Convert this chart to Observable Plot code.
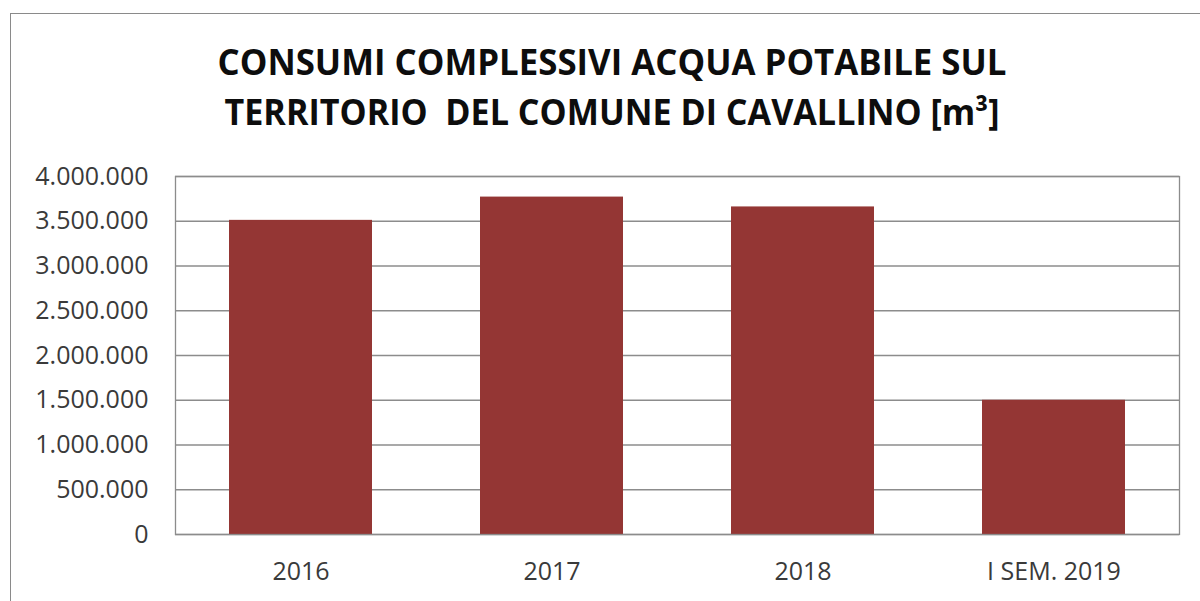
<!DOCTYPE html>
<html><head><meta charset="utf-8">
<script src="https://cdn.jsdelivr.net/npm/d3@7"></script>
<script src="https://cdn.jsdelivr.net/npm/@observablehq/plot@0.6"></script>
<style>
html,body{margin:0;padding:0;background:#fff;overflow:hidden;}
#wrap{position:relative;width:1200px;height:601px;overflow:hidden;}
#border{position:absolute;left:10px;top:13px;width:1300px;height:700px;border:1.5px solid #8a8a8a;box-sizing:border-box;}
.tl{position:absolute;left:612px;white-space:nowrap;font-family:"Open Sans";font-weight:700;font-size:35px;line-height:35px;color:#0d0d0d;transform-origin:0 0;}
#chart{position:absolute;left:0;top:150px;}
</style>
</head><body>
<div id="wrap">
  <div id="border"></div>
  <div class="tl" id="t1" style="top:44px">CONSUMI COMPLESSIVI ACQUA POTABILE SUL</div>
  <div class="tl" id="t2" style="top:94px">TERRITORIO&nbsp; DEL COMUNE DI CAVALLINO [m³]</div>
  <div id="chart"></div>
</div>
<script>
const categories = ["2016", "2017", "2018", "I SEM. 2019"];
const consumi = [3510000, 3770000, 3660000, 1500000];
const yTicks = [0, 500000, 1000000, 1500000, 2000000, 2500000, 3000000, 3500000, 4000000];

const data = categories.map((c, i) => ({anno: c, m3: consumi[i]}));
const fmt = d3.formatLocale({decimal: ",", thousands: ".", grouping: [3], currency: ["", "€"]}).format(",");

const chart = Plot.plot({
  width: 1200, height: 451,
  marginTop: 26, marginBottom: 67, marginLeft: 175, marginRight: 21,
  style: {fontFamily: "Open Sans", fontSize: "25px", color: "#3a3a3a", background: "transparent"},
  x: {domain: categories, paddingInner: 0.43, paddingOuter: 0.215, label: null, tickSize: 0, tickPadding: 28},
  y: {domain: [0, 4000000], ticks: yTicks, tickFormat: fmt, label: null, tickSize: 0, tickPadding: 27},
  marks: [
    Plot.gridY(yTicks, {stroke: "#8c8c8c", strokeOpacity: 1, strokeWidth: 1.3}),
    Plot.barY(data, {x: "anno", y: "m3", fill: "#943634"}),
    Plot.frame({stroke: "#8c8c8c", strokeWidth: 1.3})
  ]
});
document.getElementById("chart").appendChild(chart);

function fit(id, target) {
  const el = document.getElementById(id);
  const w = el.getBoundingClientRect().width;
  const s = target / w;
  el.style.transform = `scaleX(${s}) translateX(-50%)`;
}
fit("t1", 789);
fit("t2", 775);
</script>
</body></html>
